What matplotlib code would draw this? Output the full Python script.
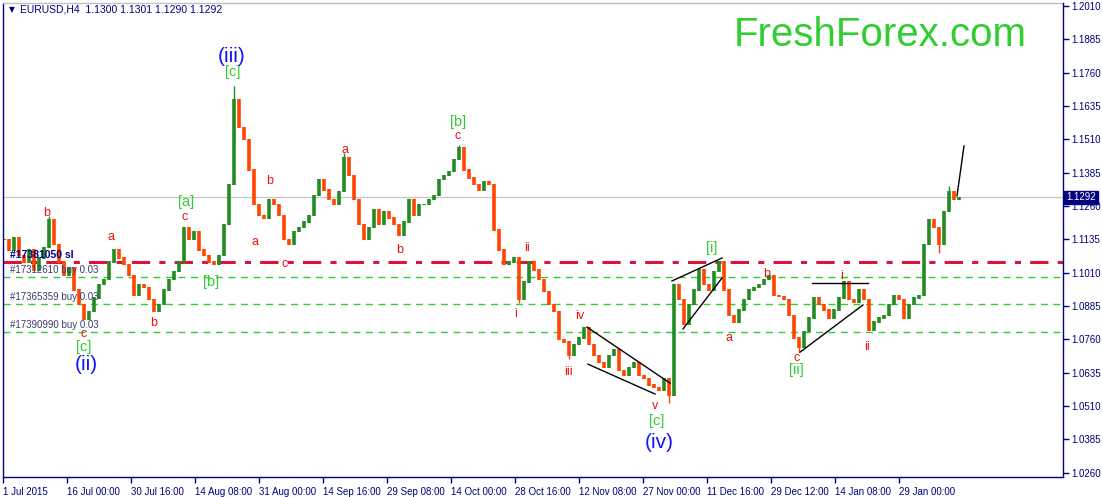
import matplotlib
matplotlib.use("Agg")
import matplotlib.pyplot as plt
import matplotlib.transforms as mtransforms
import numpy as np

# EURUSD H4 closes, one sample every 5 bars
closes = [
    1.1133, 1.1095, 1.1140, 1.1076, 1.1050, 1.1095, 1.1020, 1.1065, 1.1103, 1.1208,
    1.1114, 1.1050, 1.1001, 1.1028, 1.0945, 1.0889, 1.0833, 1.0863, 1.0915, 1.0964,
    1.0983, 1.1050, 1.1095, 1.1065, 1.1039, 1.1001, 1.0926, 1.0964, 1.0953, 1.0908,
    1.0863, 1.0889, 1.0945, 1.0983, 1.1013, 1.1050, 1.1178, 1.1133, 1.1163, 1.1095,
    1.1076, 1.1050, 1.1039, 1.1076, 1.1189, 1.1339, 1.1658, 1.1553, 1.1508, 1.1395,
    1.1264, 1.1226, 1.1215, 1.1283, 1.1264, 1.1226, 1.1133, 1.1114, 1.1163, 1.1178,
    1.1200, 1.1226, 1.1301, 1.1358, 1.1320, 1.1283, 1.1264, 1.1313, 1.1440, 1.1376,
    1.1283, 1.1189, 1.1133, 1.1178, 1.1245, 1.1189, 1.1238, 1.1215, 1.1189, 1.1151,
    1.1200, 1.1283, 1.1226, 1.1264, 1.1264, 1.1283, 1.1301, 1.1358, 1.1376, 1.1388,
    1.1433, 1.1478, 1.1395, 1.1365, 1.1339, 1.1320, 1.1350, 1.1339, 1.1170, 1.1095,
    1.1039, 1.1050, 1.1065, 1.0908, 1.0975, 1.1050, 1.1020, 1.0983, 1.0938, 1.0889,
    1.0863, 1.0758, 1.0750, 1.0701, 1.0739, 1.0765, 1.0803, 1.0739, 1.0701, 1.0675,
    1.0653, 1.0701, 1.0720, 1.0645, 1.0626, 1.0653, 1.0675, 1.0626, 1.0615, 1.0589,
    1.0578, 1.0570, 1.0615, 1.0551, 1.0964, 1.0908, 1.0814, 1.0889, 1.0945, 1.1020,
    1.0964, 1.0945, 1.1013, 1.1050, 1.0945, 1.0851, 1.0825, 1.0870, 1.0908, 1.0945,
    1.0953, 1.0964, 1.0983, 1.1001, 1.0926, 1.0919, 1.0908, 1.0851, 1.0765, 1.0728,
    1.0788, 1.0840, 1.0915, 1.0889, 1.0870, 1.0840, 1.0870, 1.0915, 1.0975, 1.0908,
    1.0900, 1.0945, 1.0908, 1.0795, 1.0825, 1.0840, 1.0851, 1.0889, 1.0926, 1.0908,
    1.0840, 1.0889, 1.0915, 1.0926, 1.1114, 1.1208, 1.1178, 1.1114, 1.1238, 1.1313,
    1.1283, 1.1292,
]
bar_step = 5
last_price = 1.1292

# a few long shadows that stick out of the bodies: (sample index, extreme price)
spikes = [(46, 1.1710), (68, 1.1459), (91, 1.1489), (9, 1.1222), (133, 1.0521),
          (159, 1.0713), (187, 1.1084), (189, 1.1335), (103, 1.0896), (113, 1.0688)]

# order levels
sl_level = 1.1051
buy_levels = [1.0993, 1.0893, 1.0788]
buy_labels = ["#17312610 buy 0.03", "#17365359 buy 0.03", "#17390990 buy 0.03"]
sl_label = "#17381050 sl"

date_labels = ["1 Jul 2015", "16 Jul 00:00", "30 Jul 16:00", "14 Aug 08:00", "31 Aug 00:00",
               "14 Sep 16:00", "29 Sep 08:00", "14 Oct 00:00", "28 Oct 16:00", "12 Nov 08:00",
               "27 Nov 00:00", "11 Dec 16:00", "29 Dec 12:00", "14 Jan 08:00", "29 Jan 00:00"]
date_step = 64

price_ticks = [1.0260 + 0.0125 * k for k in range(15)]

# wave labels: (text, bar, price)
red_waves = [("b", 44, 1.1234), ("a", 108, 1.1144), ("c", 81, 1.0779), ("b", 151, 1.0821),
             ("c", 182, 1.1219), ("b", 267, 1.1354), ("a", 252, 1.1125), ("c", 282, 1.1043),
             ("a", 342, 1.1470), ("b", 397, 1.1095), ("c", 455, 1.1523), ("ii", 524, 1.1103),
             ("i", 513, 1.0855), ("iii", 565, 1.0637), ("iv", 577, 1.0847), ("v", 652, 1.0510),
             ("a", 726, 1.0765), ("b", 764, 1.1005), ("c", 794, 1.0690), ("i", 839, 1.0997),
             ("ii", 864, 1.0731)]
green_waves = [("[c]", 81, 1.0731), ("[a]", 183, 1.1275), ("[b]", 208, 1.0975), ("[c]", 230, 1.1762),
               ("[b]", 455, 1.1575), ("[c]", 654, 1.0454), ("[i]", 709, 1.1103), ("[ii]", 793, 1.0645)]
blue_waves = [("(ii)", 83, 1.0665), ("(iii)", 229, 1.1822), ("(iv)", 656, 1.0375)]

# trend lines: (bar0, price0, bar1, price1)
trend_lines = [(584, 1.0806, 667, 1.0596), (585, 1.0667, 652, 1.0555),
               (669, 1.0979, 719, 1.1065), (680, 1.0799, 719, 1.0990),
               (809, 1.0971, 865, 1.0971), (797, 1.0712, 860, 1.0889),
               (954, 1.1298, 961, 1.1485)]

navy = "#000080"
up_col = "#228b22"
dn_col = "#ff4500"

fig = plt.figure(figsize=(11.02, 4.97), dpi=100)
ax = fig.add_axes([3 / 1102, 20 / 497, 1060 / 1102, 474 / 497])
ax.set_xlim(0, 1060)
ax.set_ylim(1.0244, 1.2021)

# horizontal levels
ax.axhline(last_price, color="#c8c8c8", lw=1, zorder=1)
ax.axhline(sl_level, color="#dc143c", lw=2.2, dashes=(6, 3, 2, 3), zorder=1)
for lv in buy_levels:
    ax.axhline(lv, color="#32cd32", lw=1, dashes=(5, 4), zorder=1)

# bars
c = np.array(closes)
o = np.concatenate([[c[0]], c[:-1]])
xs = 1 + bar_step * np.arange(len(c))
cols = [up_col if cc >= oo else dn_col for oo, cc in zip(o, c)]
ax.vlines(xs, np.minimum(o, c) - 0.0002, np.maximum(o, c) + 0.0002, colors=cols, lw=2.6, zorder=2)
for i, p in spikes:
    ax.vlines(xs[i], p, (o[i] + c[i]) / 2, colors=cols[i], lw=1, zorder=2)

for x0, p0, x1, p1 in trend_lines:
    ax.plot([x0, x1], [p0, p1], color="black", lw=1, zorder=3)

# order labels
for lv, lab in zip(buy_levels, buy_labels):
    ax.text(7, lv + 0.0007, lab, color="#3c3c6e", fontsize=7, family="Liberation Sans",
            va="bottom", ha="left", zorder=4)
ax.text(7, sl_level + 0.0007, sl_label, color=navy, fontsize=7.5, family="Liberation Sans",
        fontweight="bold", va="bottom", ha="left", zorder=4)

# wave labels
for t, x, p in red_waves:
    ax.text(x, p, t, color="#f01010", fontsize=9, ha="center", va="center",
            family="Liberation Sans", zorder=5)
for t, x, p in green_waves:
    ax.text(x, p, t, color="#32cd32", fontsize=10.5, ha="center", va="center",
            family="Liberation Sans", zorder=5)
for t, x, p in blue_waves:
    ax.text(x, p, t, color="#1414ff", fontsize=15, ha="center", va="center",
            family="Liberation Sans", zorder=5)

# header and watermark
ax.text(0.006, 0.986, "\u25BC", transform=ax.transAxes, color=navy, fontsize=5.5,
        va="center", ha="left")
ax.text(0.016, 0.986, "EURUSD,H4  1.1300 1.1301 1.1290 1.1292", transform=ax.transAxes,
        color=navy, fontsize=7.5, family="Liberation Sans", va="center", ha="left")
ax.text(0.966, 0.932, "FreshForex.com", transform=ax.transAxes, color="#32cd32",
        fontsize=29, family="Liberation Sans", va="center", ha="right")

# axes styling
for s in ["left", "top"]:
    ax.spines[s].set_visible(False)
for s in ["right", "bottom"]:
    ax.spines[s].set_color(navy)
    ax.spines[s].set_linewidth(1)
ax.plot([0, 0], [0, 1], transform=ax.transAxes, color=navy, lw=1, clip_on=False)
ax.plot([0, 1], [1, 1], transform=ax.transAxes, color="#c0c0c0", lw=1, clip_on=False)

ax.yaxis.tick_right()
ax.set_yticks(price_ticks)
ax.set_yticklabels(["%.4f" % p for p in price_ticks])
ax.tick_params(axis="y", colors=navy, labelsize=7, length=4, width=1, pad=2, direction="out")
for lab in ax.get_yticklabels():
    lab.set_family("Liberation Sans")

ax.set_xticks([date_step * k for k in range(len(date_labels))])
ax.set_xticklabels(date_labels)
ax.tick_params(axis="x", colors=navy, labelsize=7, length=4, width=1, pad=3, direction="out")
for lab in ax.get_xticklabels():
    lab.set_family("Liberation Sans")
    lab.set_horizontalalignment("left")

# current price box
trans = mtransforms.blended_transform_factory(ax.transAxes, ax.transData)
ax.text(1.003, last_price, "1.1292", transform=trans, color="white", fontsize=7,
        family="Liberation Sans", va="center", ha="left", zorder=6,
        bbox=dict(boxstyle="square,pad=0.2", fc=navy, ec=navy))

fig.savefig("out.png", dpi=100)
